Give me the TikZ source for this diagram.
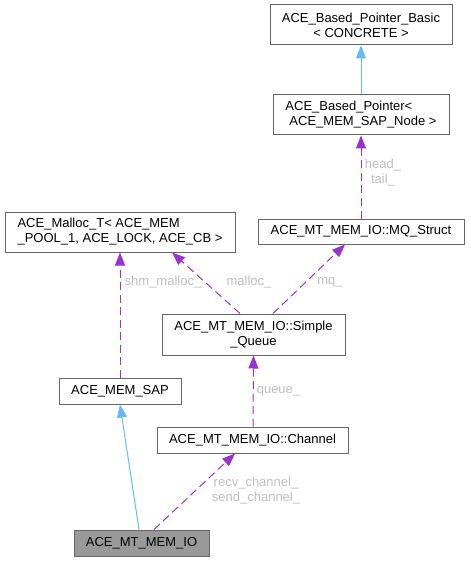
\documentclass[tikz,border=0pt]{standalone}
\usepackage{fontspec}
\setmainfont{Liberation Sans}
\usetikzlibrary{arrows.meta,calc}
\definecolor{boxline}{HTML}{666666}
\definecolor{boxfill}{HTML}{999999}
\definecolor{inh}{HTML}{63B8FF}
\definecolor{usage}{HTML}{9A32CD}
\definecolor{lbl}{HTML}{BEBEBE}
\begin{document}
\begin{tikzpicture}[x=1pt,y=-1pt,
  cls/.style={draw=boxline,fill=white,line width=1pt,inner sep=0pt,
    font=\fontsize{13}{15}\selectfont,align=center},
  inherit/.style={draw=inh,line width=1pt,-{Triangle[length=13pt,width=10pt]}},
  uses/.style={draw=usage,line width=1pt,dash pattern=on 8pt off 4.5pt,
    -{Triangle[length=13pt,width=10pt]}},
  elabel/.style={text=lbl,font=\fontsize{13}{15}\selectfont,align=center,inner sep=0pt}]
\useasboundingbox (0,0) rectangle (469,561);
\node[cls,minimum width=182pt,minimum height=40pt] (basic) at (361,25)
  {ACE\_Based\_Pointer\_Basic\\< CONCRETE >};
\node[cls,minimum width=176pt,minimum height=40pt,align=left] (bp) at (361,115)
  {ACE\_Based\_Pointer<\\\hspace*{4pt}ACE\_MEM\_SAP\_Node >};
\node[cls,minimum width=206pt,minimum height=25pt] (mq) at (361,231.5)
  {ACE\_MT\_MEM\_IO::MQ\_Struct};
\node[cls,minimum width=230pt,minimum height=40pt,align=left] (malloc) at (120,232)
  {ACE\_Malloc\_T< ACE\_MEM\\\_POOL\_1, ACE\_LOCK, ACE\_CB >};
\node[cls,minimum width=183pt,minimum height=41pt] (sq) at (253.5,334.5)
  {ACE\_MT\_MEM\_IO::Simple\\\_Queue};
\node[cls,minimum width=122pt,minimum height=26pt] (sap) at (120,391)
  {ACE\_MEM\_SAP};
\node[cls,minimum width=191pt,minimum height=26pt] (chan) at (252.5,440)
  {ACE\_MT\_MEM\_IO::Channel};
\node[cls,fill=boxfill,minimum width=135pt,minimum height=26pt] (io) at (141.5,543)
  {ACE\_MT\_MEM\_IO};

\draw[inherit] (bp.north) -- (basic.south);
\draw[uses] (mq.north) -- (bp.south);
\draw[uses] ([xshift=-13.5pt]sq.north) -- ([xshift=52pt]malloc.south);
\draw[uses] ([xshift=19.5pt]sq.north) -- ([xshift=-16pt]mq.south);
\draw[uses] (sap.north) -- (malloc.south);
\draw[uses] ([xshift=0.5pt]chan.north) -- (sq.south);
\draw[inherit] ([xshift=-2.5pt]io.north) -- (sap.south);
\draw[uses] ([xshift=12.5pt]io.north) -- ([xshift=-17.5pt]chan.south);

\node[elabel] (lhead) at (383,173) {head\_\\tail\_};
\node[elabel] (lshm) at (163,282) {shm\_malloc\_};
\node[elabel] (lmalloc) at (249,282) {malloc\_};
\node[elabel] (lmq) at (330,282) {mq\_};
\node[elabel] (lqueue) at (278.5,391) {queue\_};
\node[elabel] (lchan) at (256,491) {recv\_channel\_\\send\_channel\_};
\end{tikzpicture}
\end{document}
